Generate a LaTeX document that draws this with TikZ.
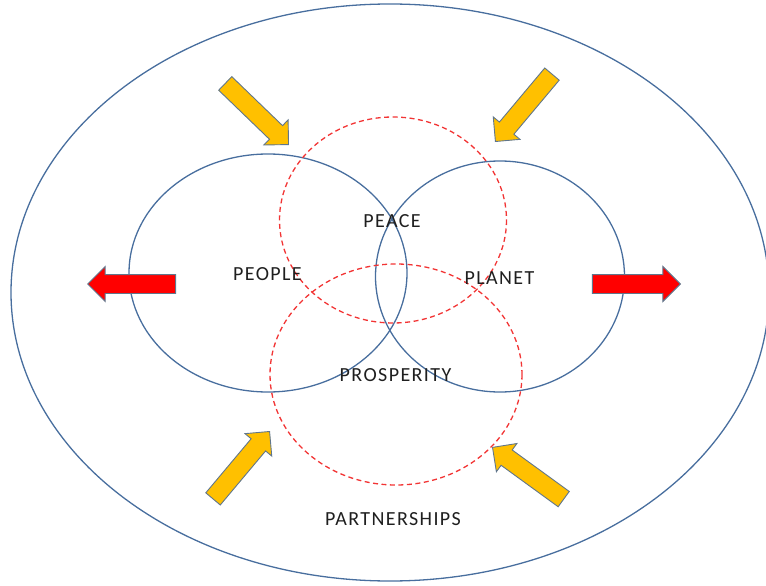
\documentclass[tikz,border=0pt]{standalone}
\usepackage{fontspec}
\usetikzlibrary{shapes.arrows}
\newfontfamily\capsfont{Carlito}[LetterSpace=7]
\definecolor{ringblue}{RGB}{72,110,158}
\definecolor{pillarred}{RGB}{242,52,52}
\definecolor{goldfill}{RGB}{255,192,0}
\definecolor{arrowedge}{RGB}{96,118,140}
\tikzset{
  ring/.style={draw=ringblue, line width=1.3bp},
  dashring/.style={draw=pillarred, line width=1.3bp, dash pattern=on 5bp off 3.5bp},
  blockarrow/.style={single arrow, draw=arrowedge, line width=0.9bp, inner sep=0pt,
    inner ysep=9bp, minimum height=88bp, minimum width=34bp,
    single arrow head extend=8bp, anchor=tip},
  goldarrow/.style={blockarrow, fill=goldfill},
  redarrow/.style={blockarrow, fill=red},
  pillar/.style={font=\capsfont\fontsize{20bp}{24bp}\selectfont, text=black!88}
}
\begin{document}
\begin{tikzpicture}[x=1bp,y=-1bp]
\tikzstyle{every node}+=[inner sep=0pt]
\useasboundingbox (0,0) rectangle (766,586);
\draw [ring] (390,292.5) ellipse (379 and 288.5);
\draw [ring] (268,273) ellipse (139 and 119);
\draw [ring] (500,276.5) ellipse (124.5 and 115.5);
\draw [dashring] (393,220) ellipse (113.5 and 103);
\draw [dashring] (396,374.5) ellipse (126 and 110.5);
\node [pillar] (people) at (267.5,274) {PEOPLE};
\node [pillar] (planet) at (499.5,278) {PLANET};
\node [pillar] (peace) at (392,221) {PEACE};
\node [pillar] (prosperity) at (395.5,375.5) {PROSPERITY};
\node [pillar] (partnerships) at (393,519) {PARTNERSHIPS};
\node [goldarrow, rotate=-44] (inNW) at (289,145) {};
\node [goldarrow, rotate=-130] (inNE) at (495,142) {};
\node [goldarrow, rotate=50] (inSW) at (270,431) {};
\node [goldarrow, rotate=144] (inSE) at (492,447) {};
\node [redarrow, rotate=180] (outW) at (87,284) {};
\node [redarrow] (outE) at (681,284) {};
\end{tikzpicture}
\end{document}
